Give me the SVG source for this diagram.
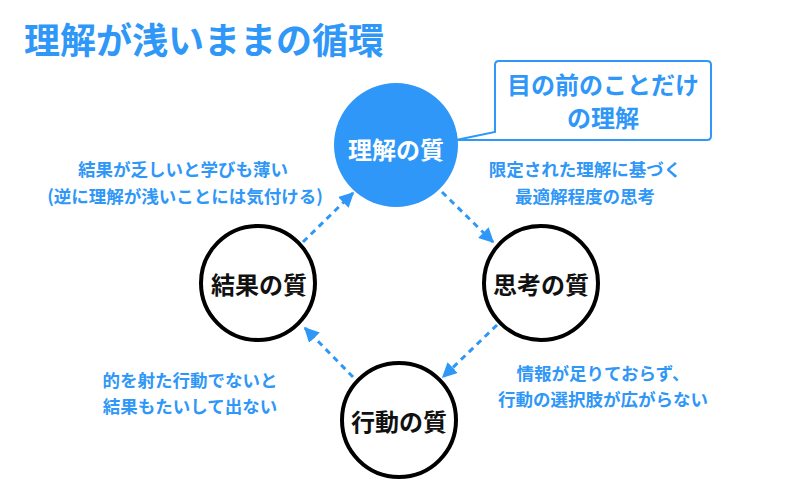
<svg xmlns="http://www.w3.org/2000/svg" width="800" height="500" viewBox="0 0 800 500">
<defs>
<style>
text{font-family:"Noto Sans CJK JP","Noto Sans",sans-serif;font-weight:bold;dominant-baseline:central;text-anchor:middle}
.title{font-size:36px;fill:#2f97f7;text-anchor:start}
.note{font-size:17.5px;fill:#2f97f7}
.lbl{font-size:24px;fill:#111}
.ring{fill:#fff;stroke:#000;stroke-width:4}
.conn{fill:none;stroke:#2f97f7;stroke-width:3;stroke-dasharray:6 5;marker-end:url(#ah)}
</style>
<marker id="ah" viewBox="0 0 10 10" refX="9" refY="5" markerWidth="5" markerHeight="5" orient="auto" markerUnits="strokeWidth">
<path d="M0,0 L10,5 L0,10 Z" fill="#2f97f7"/>
</marker>
</defs>
<rect width="800" height="500" fill="#fff"/>
<text class="title" x="24" y="38">理解が浅いままの循環</text>

<g id="connectors">
<line class="conn" x1="442" y1="192" x2="493" y2="242"/>
<line class="conn" x1="497" y1="325" x2="443" y2="377"/>
<line class="conn" x1="353" y1="377" x2="305" y2="328"/>
<line class="conn" x1="303" y1="242" x2="353" y2="193"/>
</g>

<g id="callout">
<path d="M499,61 H707 Q711,61 711,65 V136 Q711,140 707,140 H456 L495,132 V65 Q495,61 499,61 Z" fill="#fff" stroke="#2f97f7" stroke-width="2"/>
<text x="603" y="83" style="font-size:24px;fill:#2f97f7">目の前のことだけ</text>
<text x="603" y="116" style="font-size:24px;fill:#2f97f7">の理解</text>
</g>

<g id="node-understanding">
<circle cx="396" cy="145" r="62" fill="#2f97f7"/>
<text class="lbl" x="396" y="148" style="fill:#fff">理解の質</text>
</g>
<g id="node-thinking">
<circle class="ring" cx="541" cy="283" r="57"/>
<text class="lbl" x="541" y="283">思考の質</text>
</g>
<g id="node-action">
<circle class="ring" cx="399" cy="420" r="57"/>
<text class="lbl" x="399" y="420">行動の質</text>
</g>
<g id="node-result">
<circle class="ring" cx="258" cy="283" r="57"/>
<text class="lbl" x="259" y="283">結果の質</text>
</g>

<g id="notes">
<text class="note" x="183" y="168">結果が乏しいと学びも薄い</text>
<text class="note" x="185" y="195">(逆に理解が浅いことには気付ける)</text>
<text class="note" x="585" y="168">限定された理解に基づく</text>
<text class="note" x="585" y="195">最適解程度の思考</text>
<text class="note" x="190" y="379">的を射た行動でないと</text>
<text class="note" x="190" y="405">結果もたいして出ない</text>
<text class="note" x="603" y="372">情報が足りておらず、</text>
<text class="note" x="603" y="398">行動の選択肢が広がらない</text>
</g>
</svg>
